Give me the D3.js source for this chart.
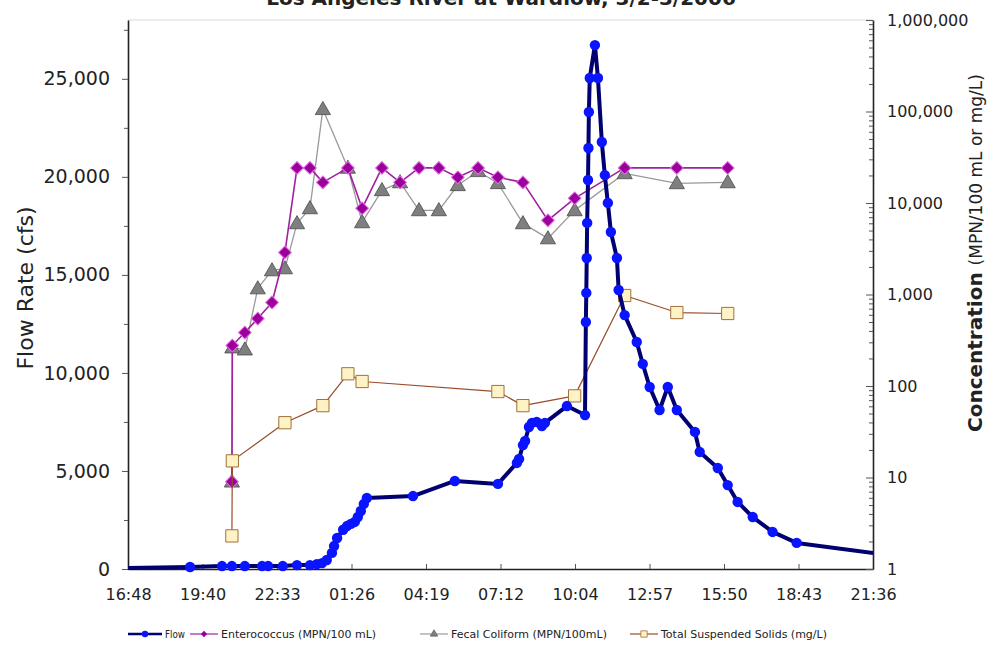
<!DOCTYPE html>
<html>
<head>
<meta charset="utf-8">
<script src="https://cdn.jsdelivr.net/npm/d3@7"></script>
<style>
  body { margin: 0; background: #fff; }
  svg { display: block; }
  text { font-family: "DejaVu Sans", Verdana, sans-serif; fill: #222; }
</style>
</head>
<body>
<svg id="chart" width="993" height="655"></svg>
<script>
// flow (cfs)
const flowTimes = ["03-02 16:00","03-02 19:12","03-02 20:26","03-02 20:49","03-02 21:19","03-02 21:59","03-02 22:13","03-02 22:47",
  "03-02 23:20","03-02 23:50","03-03 00:06","03-03 00:18","03-03 00:29","03-03 00:41","03-03 00:46","03-03 00:53",
  "03-03 01:07","03-03 01:16","03-03 01:25","03-03 01:34","03-03 01:41","03-03 01:48","03-03 01:55","03-03 02:02",
  "03-03 03:49","03-03 05:26","03-03 07:06","03-03 07:50","03-03 07:55","03-03 08:04","03-03 08:09","03-03 08:18",
  "03-03 08:25","03-03 08:36","03-03 08:48","03-03 08:55","03-03 09:46","03-03 10:28","03-03 10:30","03-03 10:31",
  "03-03 10:32","03-03 10:33","03-03 10:35","03-03 10:36","03-03 10:37","03-03 10:39","03-03 10:51","03-03 10:58",
  "03-03 11:07","03-03 11:14","03-03 11:21","03-03 11:28","03-03 11:42","03-03 11:46","03-03 12:00","03-03 12:28",
  "03-03 12:42","03-03 12:58","03-03 13:21","03-03 13:40","03-03 14:01","03-03 14:43","03-03 14:54","03-03 15:36",
  "03-03 15:59","03-03 16:22","03-03 16:57","03-03 17:43","03-03 18:39","03-03 23:00"];
const flowValues = [30,100,150,150,150,150,150,150,
  200,200,250,300,460,820,1170,1580,
  2000,2190,2300,2400,2650,2960,3320,3620,
  3720,4490,4340,5410,5610,6320,6530,7240,
  7450,7500,7290,7450,8310,7850,12600,14080,
  15860,17650,19840,21470,23310,25040,26720,25040,
  21780,20090,18670,17190,15860,14230,12950,11580,
  10460,9280,8110,9280,8110,6990,5970,5150,
  4280,3420,2650,1890,1330,580];

// sample times for the grab samples
const sampleTimes = ["03-02 20:49","03-02 20:50","03-02 21:19","03-02 21:49","03-02 22:22","03-02 22:52","03-02 23:20","03-02 23:50",
  "03-03 00:20","03-03 01:18","03-03 01:51","03-03 02:37","03-03 03:19","03-03 04:03","03-03 04:49","03-03 05:33",
  "03-03 06:20","03-03 07:06","03-03 08:04","03-03 09:02","03-03 10:04","03-03 12:00","03-03 14:01","03-03 15:59"];
const enteroValues = [9,277,384,546,818,2884,24196,24196,16800,24196,8740,24196,16800,24196,24196,19100,
  24196,19100,16800,6460,11250,24196,24196,24196];
const fecalValues = [9,263,250,1164,1833,1927,5990,8740,106000,24196,6140,13770,16800,8310,8310,15630,
  22250,16440,5990,4100,8310,21100,16400,16800];

const tssTimes = ["03-02 20:49","03-02 20:50","03-02 22:52","03-03 00:20","03-03 01:18","03-03 01:51",
  "03-03 07:06","03-03 08:04","03-03 10:04","03-03 12:00","03-03 14:01","03-03 15:59"];
const tssValues = [2.3,15.2,39.7,61,136,112,87,61,78,975,635,620];

const xTickTimes = ["03-02 16:48:00","03-02 19:40:48","03-02 22:33:36","03-03 01:26:24","03-03 04:19:12","03-03 07:12:00",
  "03-03 10:04:48","03-03 12:57:36","03-03 15:50:24","03-03 18:43:12","03-03 21:36:00"];
const leftTicks = [0,5000,10000,15000,20000,25000];
const rightTicks = [1,10,100,1000,10000,100000,1000000];
const legendNames = ["Flow","Enterococcus (MPN/100 mL)","Fecal Coliform (MPN/100mL)","Total Suspended Solids (mg/L)"];

const parseT = d3.timeParse("%Y-%m-%d %H:%M");
const parseTs = d3.timeParse("%Y-%m-%d %H:%M:%S");
const toDate = s => parseT("2006-" + s);

const svg = d3.select("#chart");
const plotL = 128, plotR = 873, plotT = 20, plotB = 569;

const x = d3.scaleTime()
  .domain([parseTs("2006-03-02 16:48:00"), parseTs("2006-03-03 21:36:00")])
  .range([plotL, plotR]);
const yFlow = d3.scaleLinear().domain([0, 28000]).range([plotB, plotT]);
const yConc = d3.scaleLog().domain([1, 1e6]).range([plotB, plotT]);

const flow = flowTimes.map((t, i) => ({t: toDate(t), v: flowValues[i]}));
const entero = sampleTimes.map((t, i) => ({t: toDate(t), v: enteroValues[i]}));
const fecal = sampleTimes.map((t, i) => ({t: toDate(t), v: fecalValues[i]}));
const tss = tssTimes.map((t, i) => ({t: toDate(t), v: tssValues[i]}));

svg.append("defs").append("clipPath").attr("id", "plotclip")
  .append("rect").attr("x", plotL).attr("y", 0).attr("width", plotR - plotL).attr("height", plotB + 12);

// title, mostly cut off at the top (as in the source image)
svg.append("text")
  .attr("x", 501).attr("y", 5)
  .attr("text-anchor", "middle")
  .style("font-size", "20px").style("font-weight", "bold")
  .text("Los Angeles River at Wardlow, 3/2-3/2006");

// plot frame
svg.append("line").attr("x1", plotL).attr("x2", plotR).attr("y1", plotT).attr("y2", plotT)
  .attr("stroke", "#d8d8d8").attr("stroke-width", 1);

// axes
const xAxis = d3.axisBottom(x)
  .tickValues(xTickTimes.map(s => parseTs("2006-" + s)))
  .tickFormat(d3.timeFormat("%H:%M"))
  .tickSizeInner(-5).tickSizeOuter(0).tickPadding(28);
const gx = svg.append("g").attr("transform", `translate(0,${plotB})`).call(xAxis);

const gl = svg.append("g").attr("transform", `translate(${plotL},0)`)
  .call(d3.axisLeft(yFlow).tickValues(leftTicks).tickFormat(d3.format(",")).tickSizeInner(6).tickSizeOuter(0).tickPadding(12));
svg.append("g").attr("transform", `translate(${plotL},0)`)
  .call(d3.axisLeft(yFlow).tickValues(d3.range(2500, 28000, 5000)).tickFormat("").tickSizeInner(4).tickSizeOuter(0))
  .select(".domain").remove();

const minorLog = [];
rightTicks.slice(0, -1).forEach(d => { for (let k = 2; k < 10; k++) minorLog.push(d * k); });
const gr = svg.append("g").attr("transform", `translate(${plotR},0)`)
  .call(d3.axisRight(yConc).tickValues(rightTicks).tickFormat(d3.format(",")).tickSizeInner(-7).tickSizeOuter(0).tickPadding(14));
svg.append("g").attr("transform", `translate(${plotR},0)`)
  .call(d3.axisRight(yConc).tickValues(minorLog).tickFormat("").tickSizeInner(-4).tickSizeOuter(0))
  .select(".domain").remove();

svg.selectAll(".domain").attr("stroke", "#222").attr("stroke-width", 1.6);
svg.selectAll(".tick line").attr("stroke", "#555");
[gx, gl, gr].forEach(g => g.selectAll(".tick text")
  .style("font-size", "16px").style("font-family", "'DejaVu Sans', sans-serif").attr("fill", "#333"));
gl.selectAll(".tick text").style("font-size", "19px");
gx.selectAll(".tick text").attr("dy", "0.2em");

// axis titles
svg.append("text")
  .attr("transform", "translate(33,288) rotate(-90)")
  .attr("text-anchor", "middle")
  .style("font-size", "22px")
  .text("Flow Rate (cfs)");
const rt = svg.append("text")
  .attr("transform", "translate(982,432) rotate(-90)")
  .attr("text-anchor", "start");
rt.append("tspan").style("font-size", "20px").style("font-weight", "bold").text("Concentration ");
rt.append("tspan").style("font-size", "17px").text("(MPN/100 mL or mg/L)");

// series
const plot = svg.append("g");
const sym = d3.symbol();

function drawLine(data, y, color, width) {
  plot.append("path").datum(data)
    .attr("fill", "none").attr("stroke", color).attr("stroke-width", width)
    .attr("stroke-linejoin", "round")
    .attr("d", d3.line().x(d => x(d.t)).y(d => y(d.v)));
}

// fecal coliform
drawLine(fecal, yConc, "#9a9a9a", 1.3);
plot.selectAll(".fc").data(fecal).join("path")
  .attr("transform", d => `translate(${x(d.t)},${yConc(d.v) + 1})`)
  .attr("d", sym.type(d3.symbolTriangle).size(100)())
  .attr("fill", "#7f7f7f").attr("stroke", "#4a4a4a").attr("stroke-width", 0.8);

// enterococcus
drawLine(entero, yConc, "#a020a0", 1.6);
plot.selectAll(".en").data(entero).join("path")
  .attr("transform", d => `translate(${x(d.t)},${yConc(d.v)}) rotate(45)`)
  .attr("d", sym.type(d3.symbolSquare).size(82)())
  .attr("fill", "#9c009c").attr("stroke", "#e070e0").attr("stroke-width", 1);

// total suspended solids
drawLine(tss, yConc, "#9b4a2a", 1.2);
plot.selectAll(".ts").data(tss).join("path")
  .attr("transform", d => `translate(${x(d.t)},${yConc(d.v)})`)
  .attr("d", sym.type(d3.symbolSquare).size(150)())
  .attr("fill", "#fff2c4").attr("stroke", "#a0703a").attr("stroke-width", 1);

// flow on top, clipped to the plot area
const fg = plot.append("g").attr("clip-path", "url(#plotclip)");
fg.append("path").datum(flow)
  .attr("fill", "none").attr("stroke", "#000070").attr("stroke-width", 4)
  .attr("stroke-linejoin", "round")
  .attr("d", d3.line().x(d => x(d.t)).y(d => yFlow(d.v)));
fg.selectAll("circle").data(flow).join("circle")
  .attr("cx", d => x(d.t)).attr("cy", d => yFlow(d.v)).attr("r", 5.2)
  .attr("fill", "#0a14ff");

// legend
const legendX = [128, 190, 420, 630];
const legendY = 634;
const lg = svg.append("g");
legendNames.forEach((name, i) => {
  const x0 = legendX[i];
  const g = lg.append("g").attr("transform", `translate(${x0},${legendY})`);
  const colors = ["#000070", "#a020a0", "#9a9a9a", "#9b4a2a"];
  g.append("line").attr("x1", 0).attr("x2", i == 0 ? 34 : 28).attr("y1", 0).attr("y2", 0)
    .attr("stroke", colors[i]).attr("stroke-width", i == 0 ? 2.5 : 1.2);
  const cx = i == 0 ? 17 : 14;
  if (i == 0)
    g.append("circle").attr("cx", cx).attr("cy", 0).attr("r", 3.2).attr("fill", "#0a14ff");
  else if (i == 1)
    g.append("path").attr("transform", `translate(${cx},0) rotate(45)`)
      .attr("d", sym.type(d3.symbolSquare).size(20)()).attr("fill", "#9c009c");
  else if (i == 2)
    g.append("path").attr("transform", `translate(${cx},0)`)
      .attr("d", sym.type(d3.symbolTriangle).size(24)()).attr("fill", "#7f7f7f").attr("stroke", "#4a4a4a").attr("stroke-width", 0.6);
  else
    g.append("path").attr("transform", `translate(${cx},0)`)
      .attr("d", sym.type(d3.symbolSquare).size(40)()).attr("fill", "#fff2c4").attr("stroke", "#a0703a").attr("stroke-width", 0.8);
  const t = g.append("text").attr("x", i == 0 ? 37 : 31).attr("y", 0).attr("dy", "0.35em")
    .style("font-size", "11px").attr("fill", "#333").text(name);
  if (i == 0) t.attr("textLength", 20).attr("lengthAdjust", "spacingAndGlyphs");
});
</script>
</body>
</html>
